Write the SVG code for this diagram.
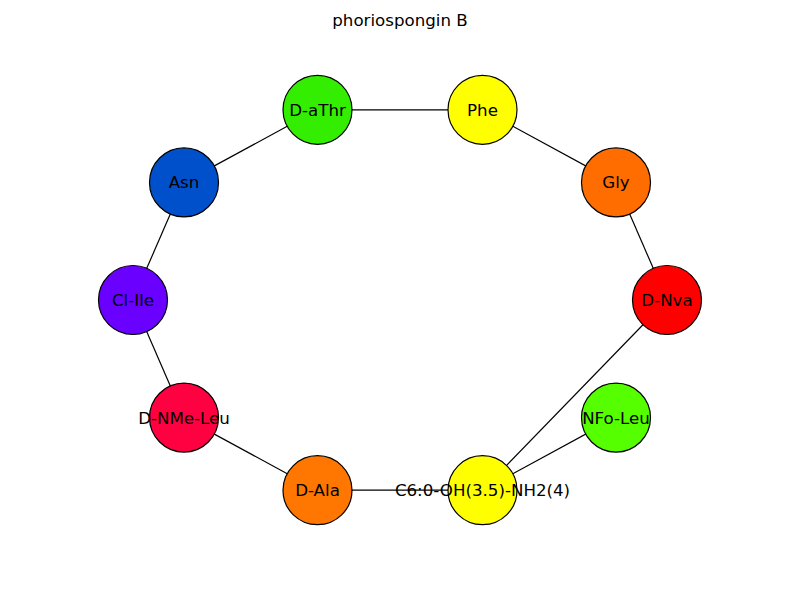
<svg xmlns="http://www.w3.org/2000/svg" width="800" height="600" viewBox="0 0 800 600">
<style>
.bg{fill:#ffffff}
.e{stroke:#000;stroke-width:1.2;fill:none}
.n{stroke:#000;stroke-width:1.2}
.l{font-family:"DejaVu Sans",sans-serif;font-size:16.67px;fill:#000;text-anchor:middle}
</style>
<rect class="bg" width="800" height="600"/>
<text class="l" x="400" y="26">phoriospongin B</text>
<g id="edges">
<line class="e" x1="317.5" y1="109.8" x2="482.5" y2="109.8"/>
<line class="e" x1="482.5" y1="109.8" x2="616" y2="182.4"/>
<line class="e" x1="616" y1="182.4" x2="667" y2="300"/>
<line class="e" x1="667" y1="300" x2="482.5" y2="490.2"/>
<line class="e" x1="616" y1="417.6" x2="482.5" y2="490.2"/>
<line class="e" x1="482.5" y1="490.2" x2="317.5" y2="490.2"/>
<line class="e" x1="317.5" y1="490.2" x2="184" y2="417.6"/>
<line class="e" x1="184" y1="417.6" x2="133" y2="300"/>
<line class="e" x1="133" y1="300" x2="184" y2="182.4"/>
<line class="e" x1="184" y1="182.4" x2="317.5" y2="109.8"/>
</g>
<g id="n-DNva"><circle class="n" cx="667" cy="300" r="34.5" fill="#ff0000"/><text class="l" x="667" y="306">D-Nva</text></g>
<g id="n-Gly"><circle class="n" cx="616" cy="182.4" r="34.5" fill="#ff6d00"/><text class="l" x="616" y="188.4">Gly</text></g>
<g id="n-Phe"><circle class="n" cx="482.5" cy="109.8" r="34.5" fill="#ffff00"/><text class="l" x="482.5" y="115.8">Phe</text></g>
<g id="n-DaThr"><circle class="n" cx="317.5" cy="109.8" r="34.5" fill="#33ee00"/><text class="l" x="317.5" y="115.8">D-aThr</text></g>
<g id="n-Asn"><circle class="n" cx="184" cy="182.4" r="34.5" fill="#0050cc"/><text class="l" x="184" y="188.4">Asn</text></g>
<g id="n-ClIle"><circle class="n" cx="133" cy="300" r="34.5" fill="#6a00ff"/><text class="l" x="133" y="306">Cl-Ile</text></g>
<g id="n-DNMeLeu"><circle class="n" cx="184" cy="417.6" r="34.5" fill="#ff0040"/><text class="l" x="184" y="423.6">D-NMe-Leu</text></g>
<g id="n-DAla"><circle class="n" cx="317.5" cy="490.2" r="34.5" fill="#ff7700"/><text class="l" x="317.5" y="496.2">D-Ala</text></g>
<g id="n-C6"><circle class="n" cx="482.5" cy="490.2" r="34.5" fill="#ffff00"/><text class="l" x="482.5" y="496.2">C6:0-OH(3.5)-NH2(4)</text></g>
<g id="n-NFoLeu"><circle class="n" cx="616" cy="417.6" r="34.5" fill="#55ff00"/><text class="l" x="616" y="423.6">NFo-Leu</text></g>
</svg>
